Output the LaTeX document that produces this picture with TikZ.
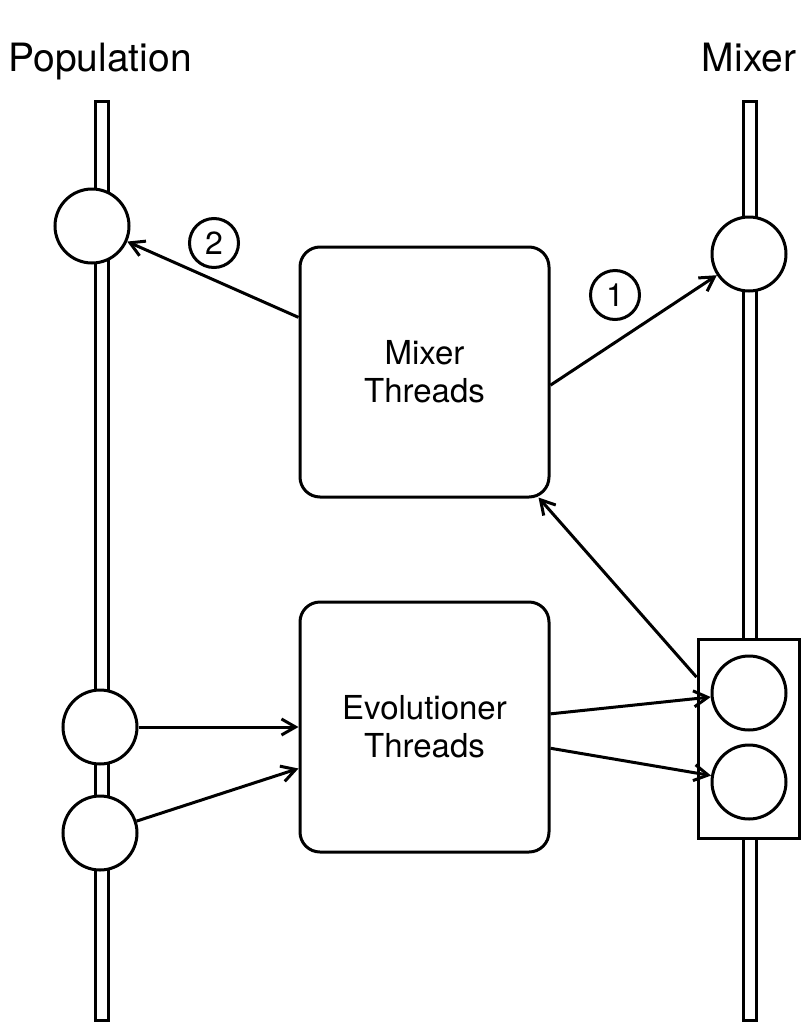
\documentclass[tikz,border=0pt]{standalone}
\usepackage{fontspec}
\setmainfont{TeX Gyre Heros}
\usetikzlibrary{arrows.meta,calc}
\begin{document}
\begin{tikzpicture}[x=1pt,y=-1pt,
  line width=3pt,
  bar/.style={draw,fill=white,minimum width=13pt,minimum height=919pt,inner sep=0pt},
  slot/.style={circle,draw,fill=white,minimum size=74pt,inner sep=0pt},
  thread/.style={rounded corners=20pt,draw,fill=white,minimum width=249pt,minimum height=250pt,inner sep=0pt,align=center,font=\fontsize{33}{38}\selectfont},
  num/.style={circle,draw,minimum size=49pt,inner sep=0pt,font=\fontsize{32}{36}\selectfont},
  title/.style={font=\fontsize{39}{46}\selectfont,anchor=base,inner sep=0pt},
  arr/.style={-{Straight Barb[length=14pt,width=16pt]}}
]
\useasboundingbox (0,0) rectangle (806,1023);
% titles
\node[title] (pop) at (100,71) {Population};
\node[title] (mixt) at (749,71) {Mixer};
% bars
\node[bar] (popbar) at (101.5,560.5) {};
\node[bar] (mixbar) at (750,560.5) {};
% population slots
\node[slot] (p1) at (92,226) {};
\node[slot] (p2) at (100,727) {};
\node[slot] (p3) at (100,833) {};
% mixer slots
\node[slot] (m1) at (749,254) {};
\node[draw,fill=white,minimum width=101pt,minimum height=199pt,inner sep=0pt] (mbox) at (748.5,738.5) {};
\node[slot] (m2) at (749,693) {};
\node[slot] (m3) at (749,782) {};
% thread boxes
\node[thread] (mix) at (424.5,372) {Mixer\\Threads};
\node[thread] (evo) at (424.5,727) {Evolutioner\\Threads};
% step numbers
\node[num] (n2) at (214,243) {2};
\node[num] (n1) at (615,295) {1};
% connectors
\draw[arr] ($(mix.north west)!0.284!(mix.south west)$) -- (p1);
\draw[arr] ($(mix.north east)!0.552!(mix.south east)$) -- (m1);
\draw[arr] ($(mbox.north west)!0.196!(mbox.south west)$) -- ($(mix.south east)+(-12,-1)$);
\draw[arr] ($(evo.north east)!0.448!(evo.south east)$) -- (m2);
\draw[arr] ($(evo.north east)!0.584!(evo.south east)$) -- (m3);
\draw[arr] (p2) -- (p2 -| evo.west);
\draw[arr] (p3) -- ($(evo.north west)!0.664!(evo.south west)$);
\end{tikzpicture}
\end{document}
